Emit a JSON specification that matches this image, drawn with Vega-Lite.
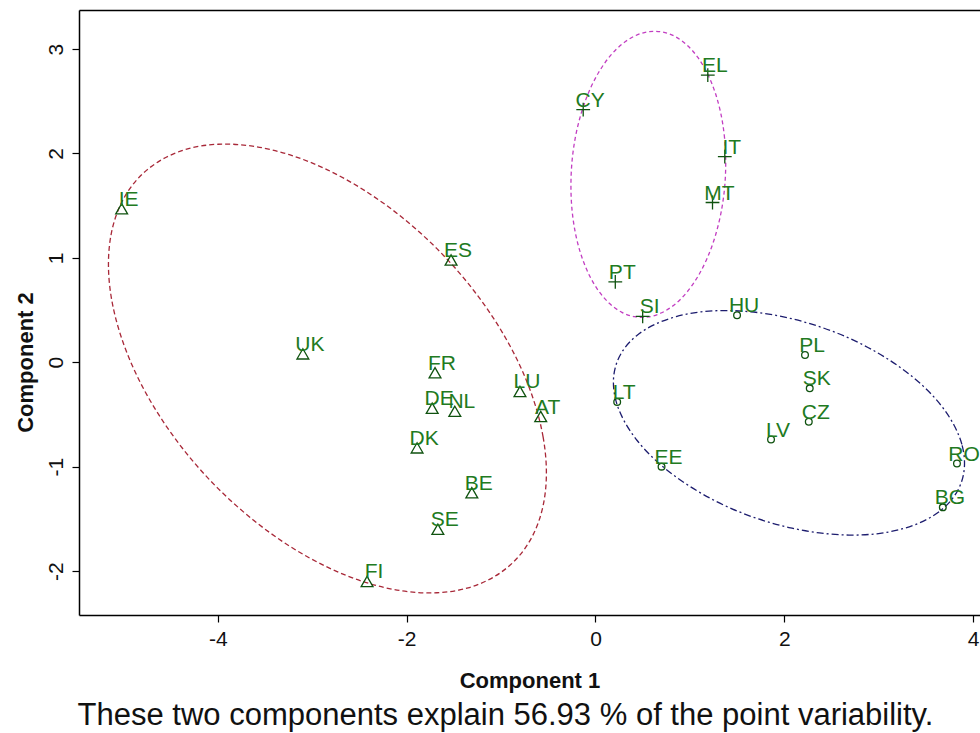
{
  "$schema": "https://vega.github.io/schema/vega-lite/v6.json",
  "width": 901,
  "height": 605,
  "autosize": {"type": "none"},
  "padding": {"left": 79, "top": 10, "right": 0, "bottom": 118},
  "background": "white",
  "config": {"view": {"stroke": null}, "font": "Liberation Sans"},
  "title": {
    "text": "These two components explain 56.93 % of the point variability.",
    "orient": "bottom",
    "anchor": "middle",
    "fontSize": 31,
    "fontWeight": "normal",
    "font": "Liberation Sans",
    "color": "#111111",
    "offset": 10,
    "dx": -24
  },
  "datasets": {
    "points": [
      {"name": "IE", "x": -5.02, "y": 1.47, "cluster": "1"},
      {"name": "UK", "x": -3.10, "y": 0.08, "cluster": "1"},
      {"name": "ES", "x": -1.53, "y": 0.98, "cluster": "1"},
      {"name": "FR", "x": -1.70, "y": -0.10, "cluster": "1"},
      {"name": "DE", "x": -1.73, "y": -0.44, "cluster": "1"},
      {"name": "NL", "x": -1.49, "y": -0.47, "cluster": "1"},
      {"name": "DK", "x": -1.89, "y": -0.82, "cluster": "1"},
      {"name": "BE", "x": -1.31, "y": -1.25, "cluster": "1"},
      {"name": "SE", "x": -1.67, "y": -1.60, "cluster": "1"},
      {"name": "FI", "x": -2.42, "y": -2.10, "cluster": "1"},
      {"name": "LU", "x": -0.80, "y": -0.28, "cluster": "1"},
      {"name": "AT", "x": -0.58, "y": -0.52, "cluster": "1"},
      {"name": "CY", "x": -0.13, "y": 2.42, "cluster": "2"},
      {"name": "PT", "x": 0.21, "y": 0.77, "cluster": "2"},
      {"name": "SI", "x": 0.50, "y": 0.44, "cluster": "2"},
      {"name": "EL", "x": 1.19, "y": 2.75, "cluster": "2"},
      {"name": "IT", "x": 1.37, "y": 1.97, "cluster": "2"},
      {"name": "MT", "x": 1.24, "y": 1.53, "cluster": "2"},
      {"name": "HU", "x": 1.50, "y": 0.45, "cluster": "3"},
      {"name": "PL", "x": 2.22, "y": 0.07, "cluster": "3"},
      {"name": "SK", "x": 2.27, "y": -0.25, "cluster": "3"},
      {"name": "CZ", "x": 2.26, "y": -0.57, "cluster": "3"},
      {"name": "LV", "x": 1.86, "y": -0.74, "cluster": "3"},
      {"name": "EE", "x": 0.70, "y": -1.00, "cluster": "3"},
      {"name": "RO", "x": 3.83, "y": -0.97, "cluster": "3"},
      {"name": "BG", "x": 3.68, "y": -1.39, "cluster": "3"},
      {"name": "LT", "x": 0.23, "y": -0.38, "cluster": "3"}
    ],
    "ellipses": [
      {"cluster": "1", "i": 0, "x": -0.52, "y": -1.06},
      {"cluster": "1", "i": 1, "x": -0.555, "y": -0.715},
      {"cluster": "1", "i": 2, "x": -0.66, "y": -0.349},
      {"cluster": "1", "i": 3, "x": -0.831, "y": 0.026},
      {"cluster": "1", "i": 4, "x": -1.063, "y": 0.397},
      {"cluster": "1", "i": 5, "x": -1.349, "y": 0.755},
      {"cluster": "1", "i": 6, "x": -1.68, "y": 1.088},
      {"cluster": "1", "i": 7, "x": -2.047, "y": 1.386},
      {"cluster": "1", "i": 8, "x": -2.437, "y": 1.64},
      {"cluster": "1", "i": 9, "x": -2.84, "y": 1.843},
      {"cluster": "1", "i": 10, "x": -3.243, "y": 1.988},
      {"cluster": "1", "i": 11, "x": -3.633, "y": 2.07},
      {"cluster": "1", "i": 12, "x": -4.0, "y": 2.088},
      {"cluster": "1", "i": 13, "x": -4.331, "y": 2.041},
      {"cluster": "1", "i": 14, "x": -4.617, "y": 1.929},
      {"cluster": "1", "i": 15, "x": -4.849, "y": 1.758},
      {"cluster": "1", "i": 16, "x": -5.02, "y": 1.531},
      {"cluster": "1", "i": 17, "x": -5.125, "y": 1.255},
      {"cluster": "1", "i": 18, "x": -5.16, "y": 0.94},
      {"cluster": "1", "i": 19, "x": -5.125, "y": 0.595},
      {"cluster": "1", "i": 20, "x": -5.02, "y": 0.229},
      {"cluster": "1", "i": 21, "x": -4.849, "y": -0.146},
      {"cluster": "1", "i": 22, "x": -4.617, "y": -0.517},
      {"cluster": "1", "i": 23, "x": -4.331, "y": -0.875},
      {"cluster": "1", "i": 24, "x": -4.0, "y": -1.208},
      {"cluster": "1", "i": 25, "x": -3.633, "y": -1.506},
      {"cluster": "1", "i": 26, "x": -3.243, "y": -1.76},
      {"cluster": "1", "i": 27, "x": -2.84, "y": -1.963},
      {"cluster": "1", "i": 28, "x": -2.437, "y": -2.108},
      {"cluster": "1", "i": 29, "x": -2.047, "y": -2.19},
      {"cluster": "1", "i": 30, "x": -1.68, "y": -2.208},
      {"cluster": "1", "i": 31, "x": -1.349, "y": -2.161},
      {"cluster": "1", "i": 32, "x": -1.063, "y": -2.049},
      {"cluster": "1", "i": 33, "x": -0.831, "y": -1.878},
      {"cluster": "1", "i": 34, "x": -0.66, "y": -1.651},
      {"cluster": "1", "i": 35, "x": -0.555, "y": -1.375},
      {"cluster": "2", "i": 0, "x": 1.38, "y": 1.91},
      {"cluster": "2", "i": 1, "x": 1.368, "y": 2.145},
      {"cluster": "2", "i": 2, "x": 1.331, "y": 2.37},
      {"cluster": "2", "i": 3, "x": 1.27, "y": 2.578},
      {"cluster": "2", "i": 4, "x": 1.188, "y": 2.762},
      {"cluster": "2", "i": 5, "x": 1.087, "y": 2.917},
      {"cluster": "2", "i": 6, "x": 0.97, "y": 3.038},
      {"cluster": "2", "i": 7, "x": 0.84, "y": 3.122},
      {"cluster": "2", "i": 8, "x": 0.702, "y": 3.164},
      {"cluster": "2", "i": 9, "x": 0.56, "y": 3.166},
      {"cluster": "2", "i": 10, "x": 0.418, "y": 3.126},
      {"cluster": "2", "i": 11, "x": 0.28, "y": 3.046},
      {"cluster": "2", "i": 12, "x": 0.15, "y": 2.928},
      {"cluster": "2", "i": 13, "x": 0.033, "y": 2.775},
      {"cluster": "2", "i": 14, "x": -0.068, "y": 2.594},
      {"cluster": "2", "i": 15, "x": -0.15, "y": 2.388},
      {"cluster": "2", "i": 16, "x": -0.211, "y": 2.164},
      {"cluster": "2", "i": 17, "x": -0.248, "y": 1.929},
      {"cluster": "2", "i": 18, "x": -0.26, "y": 1.69},
      {"cluster": "2", "i": 19, "x": -0.248, "y": 1.455},
      {"cluster": "2", "i": 20, "x": -0.211, "y": 1.23},
      {"cluster": "2", "i": 21, "x": -0.15, "y": 1.022},
      {"cluster": "2", "i": 22, "x": -0.068, "y": 0.838},
      {"cluster": "2", "i": 23, "x": 0.033, "y": 0.683},
      {"cluster": "2", "i": 24, "x": 0.15, "y": 0.562},
      {"cluster": "2", "i": 25, "x": 0.28, "y": 0.478},
      {"cluster": "2", "i": 26, "x": 0.418, "y": 0.436},
      {"cluster": "2", "i": 27, "x": 0.56, "y": 0.434},
      {"cluster": "2", "i": 28, "x": 0.702, "y": 0.474},
      {"cluster": "2", "i": 29, "x": 0.84, "y": 0.554},
      {"cluster": "2", "i": 30, "x": 0.97, "y": 0.672},
      {"cluster": "2", "i": 31, "x": 1.087, "y": 0.825},
      {"cluster": "2", "i": 32, "x": 1.188, "y": 1.006},
      {"cluster": "2", "i": 33, "x": 1.27, "y": 1.212},
      {"cluster": "2", "i": 34, "x": 1.331, "y": 1.436},
      {"cluster": "2", "i": 35, "x": 1.368, "y": 1.671},
      {"cluster": "3", "i": 0, "x": 3.91, "y": -0.967},
      {"cluster": "3", "i": 1, "x": 3.882, "y": -0.787},
      {"cluster": "3", "i": 2, "x": 3.798, "y": -0.601},
      {"cluster": "3", "i": 3, "x": 3.661, "y": -0.413},
      {"cluster": "3", "i": 4, "x": 3.475, "y": -0.231},
      {"cluster": "3", "i": 5, "x": 3.246, "y": -0.061},
      {"cluster": "3", "i": 6, "x": 2.98, "y": 0.095},
      {"cluster": "3", "i": 7, "x": 2.686, "y": 0.231},
      {"cluster": "3", "i": 8, "x": 2.373, "y": 0.341},
      {"cluster": "3", "i": 9, "x": 2.05, "y": 0.423},
      {"cluster": "3", "i": 10, "x": 1.727, "y": 0.475},
      {"cluster": "3", "i": 11, "x": 1.414, "y": 0.495},
      {"cluster": "3", "i": 12, "x": 1.12, "y": 0.483},
      {"cluster": "3", "i": 13, "x": 0.854, "y": 0.437},
      {"cluster": "3", "i": 14, "x": 0.625, "y": 0.361},
      {"cluster": "3", "i": 15, "x": 0.439, "y": 0.257},
      {"cluster": "3", "i": 16, "x": 0.302, "y": 0.127},
      {"cluster": "3", "i": 17, "x": 0.218, "y": -0.025},
      {"cluster": "3", "i": 18, "x": 0.19, "y": -0.193},
      {"cluster": "3", "i": 19, "x": 0.218, "y": -0.373},
      {"cluster": "3", "i": 20, "x": 0.302, "y": -0.559},
      {"cluster": "3", "i": 21, "x": 0.439, "y": -0.747},
      {"cluster": "3", "i": 22, "x": 0.625, "y": -0.929},
      {"cluster": "3", "i": 23, "x": 0.854, "y": -1.099},
      {"cluster": "3", "i": 24, "x": 1.12, "y": -1.255},
      {"cluster": "3", "i": 25, "x": 1.414, "y": -1.391},
      {"cluster": "3", "i": 26, "x": 1.727, "y": -1.501},
      {"cluster": "3", "i": 27, "x": 2.05, "y": -1.583},
      {"cluster": "3", "i": 28, "x": 2.373, "y": -1.635},
      {"cluster": "3", "i": 29, "x": 2.686, "y": -1.655},
      {"cluster": "3", "i": 30, "x": 2.98, "y": -1.643},
      {"cluster": "3", "i": 31, "x": 3.246, "y": -1.597},
      {"cluster": "3", "i": 32, "x": 3.475, "y": -1.521},
      {"cluster": "3", "i": 33, "x": 3.661, "y": -1.417},
      {"cluster": "3", "i": 34, "x": 3.798, "y": -1.287},
      {"cluster": "3", "i": 35, "x": 3.882, "y": -1.135}
    ]
  },
  "layer": [
    {
      "data": {"name": "ellipses"},
      "mark": {"type": "line", "interpolate": "cardinal-closed", "strokeWidth": 1.3, "clip": true},
      "encoding": {
        "x": {
          "field": "x", "type": "quantitative",
          "scale": {"domain": [-5.472, 4.074], "nice": false, "zero": false},
          "axis": {"orient": "top", "labels": false, "ticks": false, "title": null, "grid": false, "domain": true, "domainColor": "black", "domainWidth": 1.5}
        },
        "y": {
          "field": "y", "type": "quantitative",
          "scale": {"domain": [-2.421, 3.374], "nice": false, "zero": false},
          "axis": {
            "values": [-2, -1, 0, 1, 2, 3],
            "labelExpr": "datum.value < 0 ? '-' + abs(datum.value) : '' + datum.value",
            "grid": false,
            "domainColor": "black", "domainWidth": 1.5,
            "tickColor": "black", "tickSize": 7, "tickWidth": 1.2,
            "labelAngle": -90, "labelAlign": "center", "labelBaseline": "bottom",
            "labelPadding": 6, "labelFontSize": 21, "labelColor": "#111111", "labelFont": "Liberation Sans",
            "title": "Component 2", "titleFontSize": 22, "titleFontWeight": "bold", "titleColor": "#111111",
            "titleFont": "Liberation Sans",
            "titleX": -54, "titleY": 352, "titleAngle": -90, "titleAlign": "center", "titleBaseline": "middle"
          }
        },
        "color": {"field": "cluster", "type": "nominal", "scale": {"domain": ["1", "2", "3"], "range": ["#a82838", "#c23ec2", "#1c1c6e"]}, "legend": null},
        "strokeDash": {"field": "cluster", "type": "nominal", "scale": {"domain": ["1", "2", "3"], "range": [[5, 3], [4, 3], [7, 3, 2, 3]]}, "legend": null},
        "order": {"field": "i", "type": "quantitative"}
      }
    },
    {
      "data": {"name": "points"},
      "mark": {"type": "point", "filled": false, "strokeWidth": 1.3, "color": "#0f520f", "opacity": 1},
      "encoding": {
        "x": {
          "field": "x", "type": "quantitative",
          "axis": {
            "orient": "bottom",
            "values": [-4, -2, 0, 2, 4],
            "labelExpr": "datum.value < 0 ? '-' + abs(datum.value) : '' + datum.value",
            "grid": false,
            "domainColor": "black", "domainWidth": 1.5,
            "tickColor": "black", "tickSize": 7, "tickWidth": 1.2,
            "labelPadding": 6, "labelFontSize": 21, "labelColor": "#111111", "labelFont": "Liberation Sans",
            "title": "Component 1", "titleFontSize": 22, "titleFontWeight": "bold", "titleColor": "#111111",
            "titleFont": "Liberation Sans", "titlePadding": 21
          }
        },
        "y": {"field": "y", "type": "quantitative"},
        "shape": {"field": "cluster", "type": "nominal", "scale": {"domain": ["1", "2", "3"], "range": ["triangle-up", "M-1,0L1,0M0,-1L0,1", "circle"]}, "legend": null},
        "size": {"field": "cluster", "type": "ordinal", "scale": {"type": "ordinal", "domain": ["1", "2", "3"], "range": [140, 190, 45]}, "legend": null}
      }
    },
    {
      "data": {"name": "points"},
      "mark": {"type": "text", "align": "center", "baseline": "middle", "dx": 7, "dy": -9, "fontSize": 21, "color": "#217a21", "font": "Liberation Sans"},
      "encoding": {
        "x": {"field": "x", "type": "quantitative", "axis": null},
        "y": {"field": "y", "type": "quantitative"},
        "text": {"field": "name", "type": "nominal"}
      }
    }
  ],
  "resolve": {"axis": {"x": "independent"}}
}
